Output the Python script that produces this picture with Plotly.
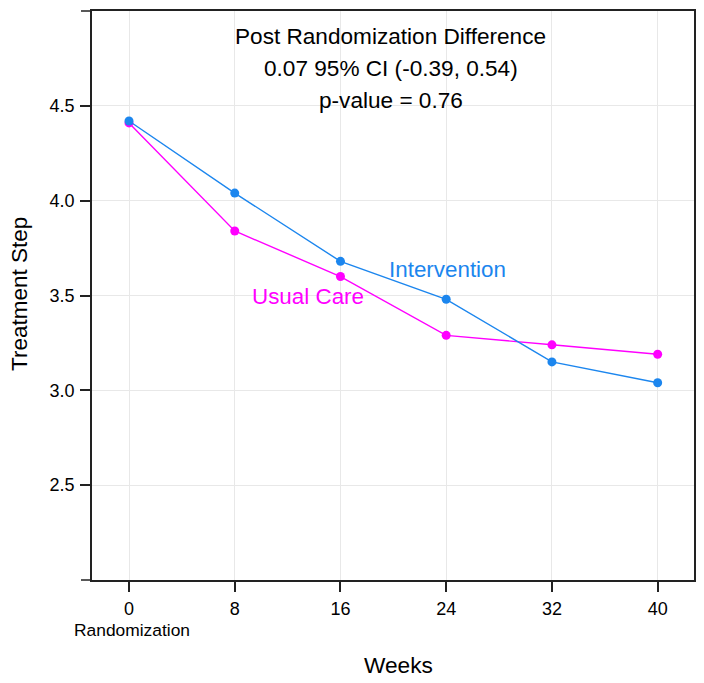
import plotly.graph_objects as go

weeks = [0, 8, 16, 24, 32, 40]
week_labels = ["0", "8", "16", "24", "32", "40"]
intervention = [4.42, 4.04, 3.68, 3.48, 3.15, 3.04]
usual_care = [4.41, 3.84, 3.60, 3.29, 3.24, 3.19]
y_ticks = [2.5, 3.0, 3.5, 4.0, 4.5]

BLUE = "#1C86EE"
PINK = "#FF00FF"
FONT = "Liberation Sans, Arial, sans-serif"

# page body has an 8px margin, so the figure is shrunk by that amount
OFF = 8
W, H = 704 - OFF, 683 - OFF
X0, X1, Y0, Y1 = 92, 694, 9, 580  # plot frame in window pixels
L, R, T, B = X0 - OFF, 704 - X1, Y0 - OFF, 683 - Y1
PW, PH = X1 - X0, Y1 - Y0


def px(x):
    return (x - X0) / PW


def py(y):
    return (Y1 - y) / PH


fig = go.Figure()
fig.add_trace(go.Scatter(x=weeks, y=usual_care, mode="lines+markers", name="Usual Care",
                         line=dict(color=PINK, width=1.4), marker=dict(color=PINK, size=9)))
fig.add_trace(go.Scatter(x=weeks, y=intervention, mode="lines+markers", name="Intervention",
                         line=dict(color=BLUE, width=1.4), marker=dict(color=BLUE, size=9)))

annots = [
    dict(text="Post Randomization Difference", x=px(390.5), y=py(35), size=22.6, color="black"),
    dict(text="0.07 95% CI (-0.39, 0.54)", x=px(390.5), y=py(67), size=22.6, color="black"),
    dict(text="p-value = 0.76", x=px(390.5), y=py(99), size=22.6, color="black"),
    dict(text="Intervention", x=px(447), y=py(268), size=22.4, color=BLUE),
    dict(text="Usual Care", x=px(308), y=py(296), size=22.4, color=PINK),
    dict(text="Randomization", x=px(132), y=py(630), size=17.4, color="black"),
    dict(text="Weeks", x=px(398), y=py(665), size=22.7, color="black"),
]
for a in annots:
    fig.add_annotation(text=a["text"], x=a["x"], y=a["y"], xref="paper", yref="paper",
                       showarrow=False, xanchor="center", yanchor="middle",
                       font=dict(family=FONT, size=a["size"], color=a["color"]))
fig.add_annotation(text="Treatment Step", x=px(19), y=py(293), xref="paper", yref="paper",
                   showarrow=False, textangle=-90, xanchor="center", yanchor="middle",
                   font=dict(family=FONT, size=22.5, color="black"))

# left extensions of top and bottom frame lines
for yy in (0, 1):
    fig.add_shape(type="line", xref="paper", yref="paper", x0=-11 / PW, x1=0, y0=yy, y1=yy,
                  line=dict(color="#222222", width=1.5))

axis_common = dict(showgrid=True, gridcolor="#E8E8E8", gridwidth=1, zeroline=False,
                   showline=True, mirror=True, linecolor="#222222", linewidth=1.5,
                   ticks="outside", ticklen=10, tickwidth=1.5, tickcolor="#222222",
                   tickfont=dict(size=18), ticklabelstandoff=2)

fig.update_layout(
    width=W, height=H,
    margin=dict(l=L, r=R, t=T, b=B, pad=0),
    plot_bgcolor="white", paper_bgcolor="white",
    showlegend=False,
    font=dict(family=FONT, size=18, color="black"),
    xaxis=dict(range=[-2.8, 42.75], tickvals=weeks, ticktext=week_labels, **axis_common),
    yaxis=dict(range=[2.0, 5.0], tickvals=y_ticks, ticktext=[f"{v:.1f}" for v in y_ticks],
               **axis_common),
)

fig.write_html("out.html")
